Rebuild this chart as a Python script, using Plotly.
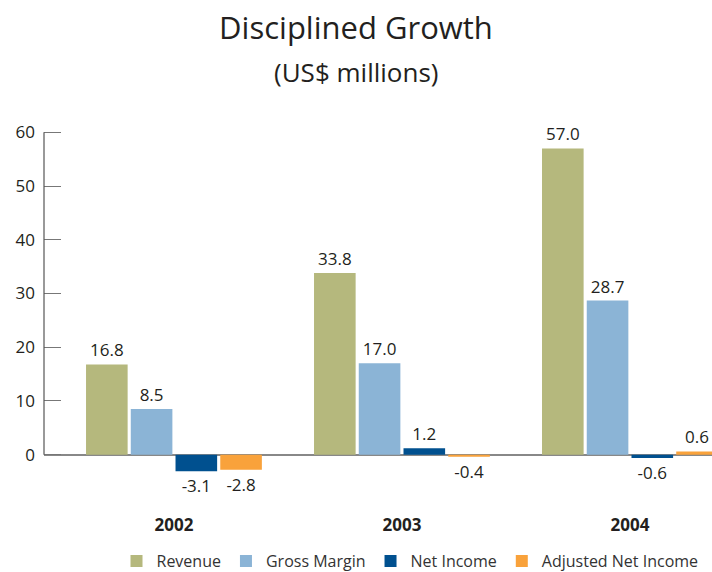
import plotly.graph_objects as go

years = ["2002", "2003", "2004"]
revenue = [16.8, 33.8, 57.0]
gross_margin = [8.5, 17.0, 28.7]
net_income = [-3.1, 1.2, -0.6]
adjusted_net_income = [-2.8, -0.4, 0.6]

series = [
    ("Revenue", revenue, "#b5b87d"),
    ("Gross Margin", gross_margin, "#8bb4d6"),
    ("Net Income", net_income, "#00508f"),
    ("Adjusted Net Income", adjusted_net_income, "#f9a23b"),
]

FONT = "Open Sans"
DARK = "#231f20"

fig = go.Figure()
for name, vals, color in series:
    fig.add_trace(go.Bar(
        name=name, x=years, y=vals,
        marker=dict(color=color, line=dict(width=0)),
        texttemplate="%{y:.1f}", textposition="outside",
        textfont=dict(family=FONT, size=17, color=DARK),
        cliponaxis=False,
    ))

fig.update_layout(
    width=712, height=572,
    margin=dict(l=44, r=0, t=127, b=69, autoexpand=False),
    paper_bgcolor="white", plot_bgcolor="white",
    barmode="group", bargap=0.215, bargroupgap=0.07,
    font=dict(family=FONT, color=DARK),
    title=dict(text="Disciplined Growth", x=0.5, xref="container", xanchor="center",
               y=1 - 28 / 572, yref="container", yanchor="middle",
               font=dict(family=FONT, size=31, color=DARK)),
    showlegend=True,
    legend=dict(orientation="h", x=410 / 712, xref="container", xanchor="center",
                y=1 - 561 / 572, yref="container", yanchor="middle",
                font=dict(family=FONT, size=16, color="#333333"),
                traceorder="normal"),
    xaxis=dict(range=[-0.57, 2.36], showgrid=False, zeroline=False, showline=False,
               ticks="", tickfont=dict(family=FONT, size=17, color=DARK, weight="bold"),
               ticklabelstandoff=10),
    yaxis=dict(range=[-9, 61], tickvals=[0, 10, 20, 30, 40, 50, 60], showgrid=False,
               zeroline=True, zerolinecolor="#888888", zerolinewidth=1.5,
               showline=False, ticks="inside", ticklen=17, tickcolor="#777777", tickwidth=1,
               tickfont=dict(family=FONT, size=17, color=DARK), ticklabelstandoff=8),
    annotations=[dict(text="(US$ millions)", x=0.5, xref="paper", xanchor="center",
                      y=1 + 55 / 376, yref="paper", yanchor="middle", showarrow=False,
                      xshift=-22,
                      font=dict(family=FONT, size=26, color=DARK))],
    shapes=[dict(type="line", xref="paper", x0=0, x1=0, yref="y", y0=0, y1=60,
                 line=dict(color="#555555", width=1.2))],
)

fig.write_html("out.html")
